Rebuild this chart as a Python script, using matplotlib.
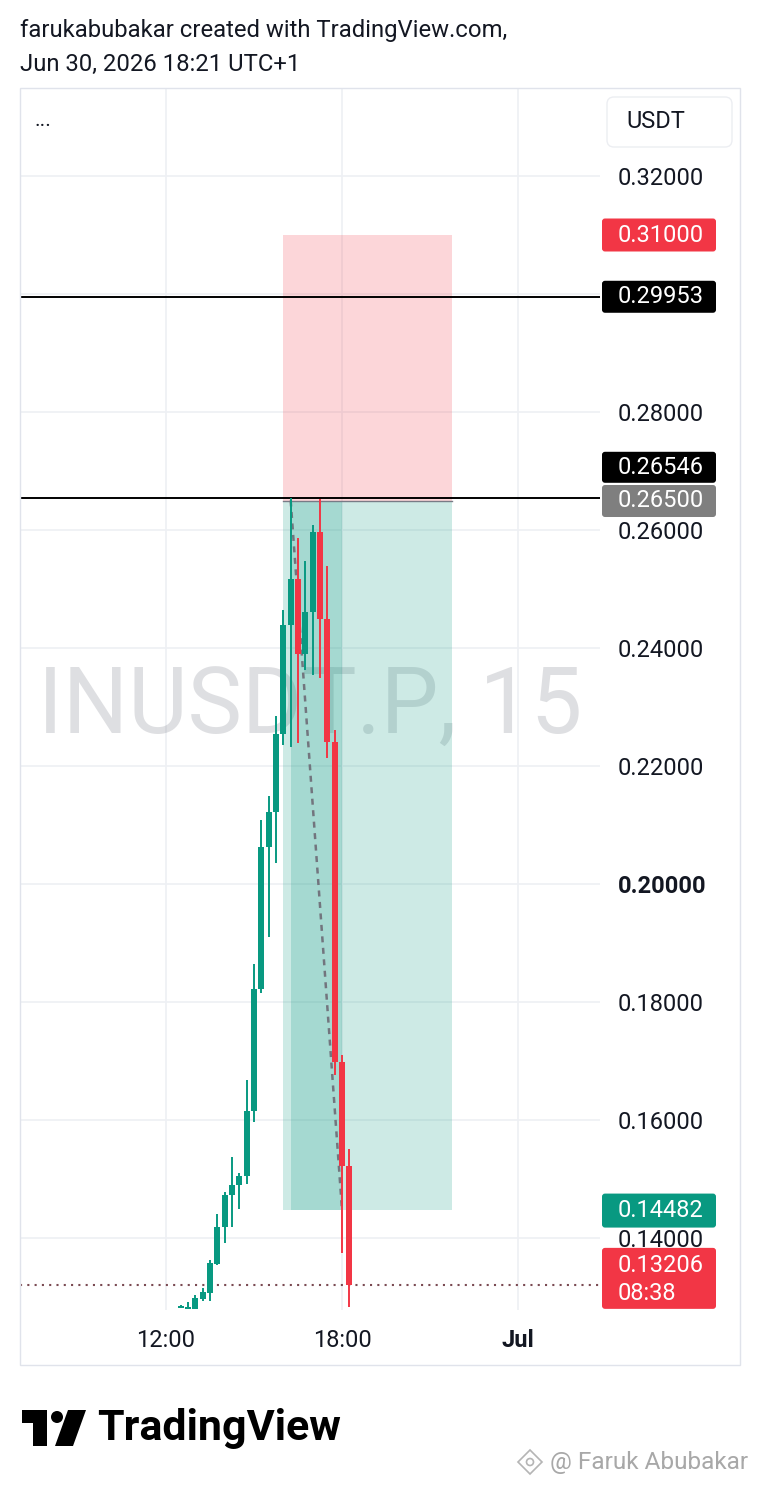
import matplotlib
matplotlib.use("Agg")
import matplotlib.pyplot as plt
import matplotlib.transforms as mtransforms
from matplotlib.patches import Rectangle, FancyBboxPatch, Circle, Polygon

plt.rcParams['font.family'] = ['Roboto', 'DejaVu Sans']

# INUSDT.P, 15 min candles, Jun 30 (UTC+1)
times = ["12:30", "12:45", "13:00", "13:15", "13:30", "13:45", "14:00", "14:15",
         "14:30", "14:45", "15:00", "15:15", "15:30", "15:45", "16:00", "16:15",
         "16:30", "16:45", "17:00", "17:15", "17:30", "17:45", "18:00", "18:15"]
opens = [0.1282, 0.1280, 0.1280, 0.1297, 0.1307, 0.1356, 0.1419, 0.1473,
         0.1490, 0.1505, 0.1615, 0.1822, 0.2063, 0.2122, 0.2254, 0.2439,
         0.2517, 0.2390, 0.2461, 0.2597, 0.2449, 0.2241, 0.1698, 0.1522]
highs = [0.1286, 0.1292, 0.1303, 0.1315, 0.1363, 0.1441, 0.1478, 0.1537,
         0.1510, 0.1668, 0.1864, 0.2109, 0.2149, 0.2285, 0.2464, 0.26546,
         0.2586, 0.2548, 0.2609, 0.2652, 0.2539, 0.2261, 0.1710, 0.1551]
lows = [0.1281, 0.1279, 0.1279, 0.1293, 0.1293, 0.1355, 0.1392, 0.1419,
        0.1449, 0.1492, 0.1597, 0.1815, 0.1910, 0.2036, 0.2236, 0.2232,
        0.2239, 0.2363, 0.2354, 0.2349, 0.2214, 0.1676, 0.1375, 0.1283]
closes = [0.1285, 0.1283, 0.1298, 0.1309, 0.1358, 0.1419, 0.1473, 0.1490,
          0.1505, 0.1615, 0.1822, 0.2063, 0.2122, 0.2254, 0.2439, 0.2517,
          0.2390, 0.2461, 0.2597, 0.2449, 0.2241, 0.1698, 0.1522, 0.13206]

price_ticks = [0.14, 0.16, 0.18, 0.20, 0.22, 0.24, 0.26, 0.28, 0.30, 0.32]
price_labels = ["0.14000", "0.16000", "0.18000", "0.20000", "0.22000",
                "0.24000", "0.26000", "0.28000", "", "0.32000"]
time_ticks = ["12:00", "18:00", "24:00"]
time_labels = ["12:00", "18:00", "Jul"]

# short position tool
pos_start, pos_end = "16:00", "21:45"
hit_start, hit_end = "16:15", "18:00"
stop_price = 0.31
entry_price = 0.265
target_price = 0.14482
hline_prices = [0.29953, 0.26546]
last_price = 0.13206
countdown = "08:38"

UP = '#089981'
DOWN = '#f23645'
TXT = '#131722'


def hours(t):
    h, m = t.split(":")
    return int(h) + int(m) / 60


W, H = 760, 1486
fig = plt.figure(figsize=(W / 100, H / 100), dpi=100)
fig.patch.set_facecolor('white')
# pixel coords, origin top-left
px = mtransforms.Affine2D().scale(1 / 100, -1 / 100).translate(0, H / 100) + fig.dpi_scale_trans

ax_l, ax_t, ax_r, ax_b = 20, 88, 600, 1310
ax = fig.add_axes([ax_l / W, 1 - ax_b / H, (ax_r - ax_l) / W, (ax_b - ax_t) / H])
ax.set_xlim(7.023, 26.795)
ax.set_ylim(0.12780, 0.334915)
for s in ax.spines.values():
    s.set_visible(False)

ax.grid(True, color='#eef0f4', lw=1.2)
ax.set_axisbelow(True)

ax.yaxis.tick_right()
ax.set_yticks(price_ticks)
ax.set_yticklabels(price_labels)
ax.tick_params(axis='y', length=0, pad=13, labelsize=17, labelcolor=TXT)
for lbl in ax.get_yticklabels():
    if lbl.get_text() == "0.20000":
        lbl.set_fontweight('bold')

ax.set_xticks([hours(t) for t in time_ticks])
ax.set_xticklabels(time_labels)
ax.tick_params(axis='x', length=0, pad=14, labelsize=17, labelcolor=TXT)
ax.get_xticklabels()[2].set_fontweight('bold')

# watermark
ax.text(0.5, 0.4715, "INUSDT.P, 15", transform=ax.transAxes, ha='center', va='baseline',
        fontsize=66, color='#787b86', alpha=0.24, zorder=1)

# position tool
x0, x1 = hours(pos_start), hours(pos_end)
ax.add_patch(Rectangle((x0, entry_price), x1 - x0, stop_price - entry_price,
                       fc=DOWN, alpha=0.2, lw=0, zorder=2))
ax.add_patch(Rectangle((x0, target_price), x1 - x0, entry_price - target_price,
                       fc=UP, alpha=0.2, lw=0, zorder=2))
h0, h1 = hours(hit_start), hours(hit_end)
ax.add_patch(Rectangle((h0, target_price), h1 - h0, entry_price - target_price,
                       fc=UP, alpha=0.2, lw=0, zorder=2))
ax.plot([x0, x1], [entry_price, entry_price], color='#787b86', lw=1, zorder=2.5)
ax.plot([h0, h1], [entry_price, target_price], color='#72757e', lw=1.8,
        dashes=(2.4, 2.2), zorder=3)

# horizontal lines
for p in hline_prices:
    ax.axhline(p, color='black', lw=1.4, zorder=3)
ax.axhline(last_price, color='#7a4a52', lw=1.5, dashes=(1, 2.5), zorder=3)

# candles
xs = [hours(t) for t in times]
cols = [UP if c >= o else DOWN for o, c in zip(opens, closes)]
ax.vlines(xs, lows, highs, colors=cols, lw=1.4, zorder=4)
bottoms = [min(o, c) for o, c in zip(opens, closes)]
heights = [max(abs(c - o), 0.0003) for o, c in zip(opens, closes)]
ax.bar(xs, heights, width=0.2, bottom=bottoms, color=cols, lw=0, zorder=5)

# price scale labels
ymin, ymax = ax.get_ylim()
ppu = (ax_b - ax_t) / (ymax - ymin)
axw = ax_r - ax_l
lab_tr = mtransforms.blended_transform_factory(ax.transAxes, ax.transData)


def price_box(value, lines, face, top_px, bot_px, line_px):
    y0 = value - bot_px / ppu
    hgt = (top_px + bot_px) / ppu
    box = FancyBboxPatch(((602 - ax_l) / axw, y0), 114 / axw, hgt,
                         boxstyle=f"round,pad=0,rounding_size={3 / axw}",
                         mutation_aspect=axw / ppu, transform=lab_tr,
                         fc=face, ec='none', clip_on=False, zorder=6)
    ax.add_patch(box)
    for txt, off in zip(lines, line_px):
        ax.text((618 - ax_l) / axw, value - off / ppu, txt, transform=lab_tr,
                ha='left', va='center', fontsize=17, color='white',
                clip_on=False, zorder=7)


price_box(stop_price, [f"{stop_price:.5f}"], DOWN, 16.5, 16.5, [0])
price_box(hline_prices[0], [f"{hline_prices[0]:.5f}"], 'black', 16, 16, [0])
price_box(hline_prices[1], [f"{hline_prices[1]:.5f}"], 'black', 46, -15, [-30.5])
price_box(entry_price, [f"{entry_price:.5f}"], '#7f7f7f', 15.5, 16.5, [0])
price_box(target_price, [f"{target_price:.5f}"], UP, 16, 18, [1])
price_box(last_price, [f"{last_price:.5f}", countdown], DOWN, 37, 24, [-19, 9])

# frame + header
fig.add_artist(Rectangle((20, 88), 720, 1277, transform=px, fill=False,
                         ec='#e0e3eb', lw=1))
fig.add_artist(FancyBboxPatch((607, 97), 125, 50, boxstyle="round,pad=0,rounding_size=7",
                              transform=px, fc='white', ec='#eceef2', lw=1))
fig.text(626, 122, "USDT", transform=px, ha='left', va='center', fontsize=17, color=TXT)
fig.text(35, 121, "...", transform=px, ha='left', va='center', fontsize=15, color=TXT)
fig.text(20, 31, "farukabubakar created with TradingView.com,", transform=px,
         ha='left', va='center', fontsize=17.2, color=TXT)
fig.text(20, 64, "Jun 30, 2026 18:21 UTC+1", transform=px,
         ha='left', va='center', fontsize=17.2, color=TXT)

# footer logo
fig.add_artist(Polygon([(22, 1410), (47, 1410), (47, 1446), (33, 1446), (33, 1423), (22, 1423)],
                       closed=True, transform=px, fc='black', ec='none'))
fig.add_artist(Circle((57, 1417), 6, transform=px, fc='black', ec='none'))
fig.add_artist(Polygon([(68, 1410), (86, 1410), (73, 1446), (55, 1446)],
                       closed=True, transform=px, fc='black', ec='none'))
fig.text(97, 1440, "TradingView", transform=px, ha='left', va='baseline',
         fontsize=31, fontweight='bold', color='black')

# user watermark
fig.add_artist(Polygon([(530, 1450), (542, 1462), (530, 1474), (518, 1462)], closed=True,
                       transform=px, fill=False, ec='#b5b5b5', lw=1.2))
fig.add_artist(Circle((530, 1462), 3.5, transform=px, fill=False, ec='#b5b5b5', lw=1.2))
fig.text(550, 1462, "@ Faruk Abubakar", transform=px, ha='left', va='center',
         fontsize=17.6, color='#a8a8a8')

fig.savefig("out.png", dpi=100)
